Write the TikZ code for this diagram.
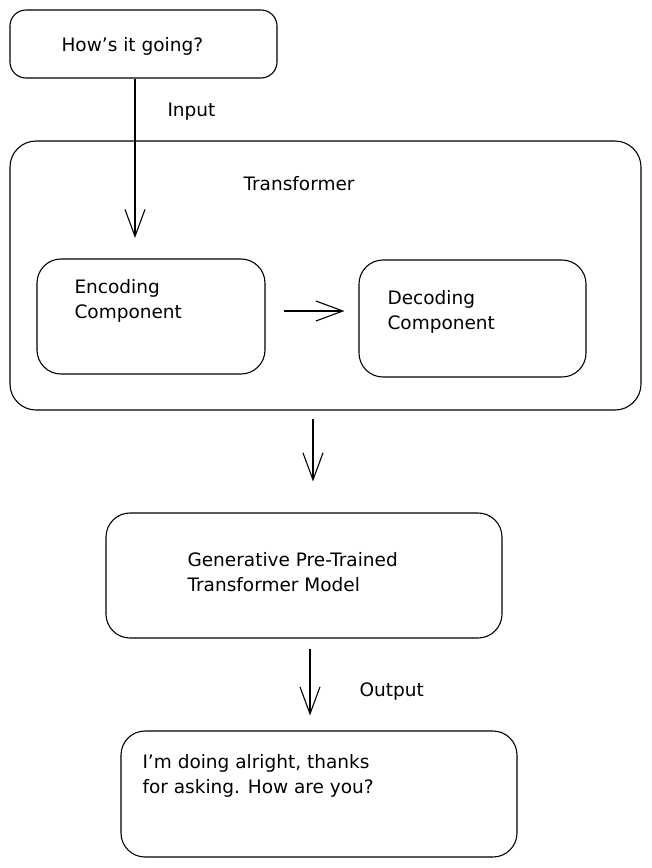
\documentclass[tikz,border=0pt]{standalone}
\usepackage{fontspec}
\setmainfont{DejaVu Sans}
\usetikzlibrary{positioning, arrows.meta}

\begin{document}
\begin{tikzpicture} [x=1pt, y=-1pt,
  box/.style={draw, line width=1.1pt, rounded corners=16pt, inner sep=0pt},
  lbl/.style={anchor=west, align=left, font=\fontsize{18.5}{25}\selectfont},
  >={Straight Barb[length=27pt, width=20pt]}]
\useasboundingbox (0,0) rectangle (652,868);
\node[box, minimum width=267pt, minimum height=68pt] (msg) at (143.5,44) {};
\node[box, rounded corners=26pt, minimum width=631pt, minimum height=269pt] (trans) at (325.5,275.5) {};
\node[box, rounded corners=24pt, minimum width=228pt, minimum height=115pt] (enc) at (151,316.5) {};
\node[box, rounded corners=24pt, minimum width=227pt, minimum height=117pt] (dec) at (472.5,318.5) {};
\node[box, rounded corners=24pt, minimum width=396pt, minimum height=125pt] (gpt) at (304,575.5) {};
\node[box, rounded corners=24pt, minimum width=396pt, minimum height=126pt] (reply) at (319,794) {};
\node[lbl] (msgtext) at (58,46) {How's it going?};
\node[lbl] (input) at (164,112) {Input};
\node[lbl] (transtext) at (240,184) {Transformer};
\node[lbl] (enctext) at (71,301) {Encoding\\Component};
\node[lbl] (dectext) at (384,312) {Decoding\\Component};
\node[lbl] (gpttext) at (184,572) {Generative Pre-Trained\\Transformer Model};
\node[lbl] (output) at (356,692) {Output};
\node[lbl] (replytext) at (139,776) {I'm doing alright, thanks\\for asking. How are you?};
\coordinate (inend) at (135,238);
\draw[->, line width=1.1pt] (msg.south -| inend) -- (inend);
\draw[->, line width=1.1pt, shorten <=18pt, shorten >=14pt] ([yshift=5.5pt]enc.east) -- ([yshift=7.5pt]dec.west);
\draw[->, line width=1.1pt, shorten <=8pt, shorten >=31pt] ([xshift=-12.5pt]trans.south) -- ([xshift=9pt]gpt.north);
\draw[->, line width=1.1pt, shorten <=10pt, shorten >=15pt] ([xshift=6pt]gpt.south) -- ([xshift=-9pt]reply.north);
\end{tikzpicture}
\end{document}
